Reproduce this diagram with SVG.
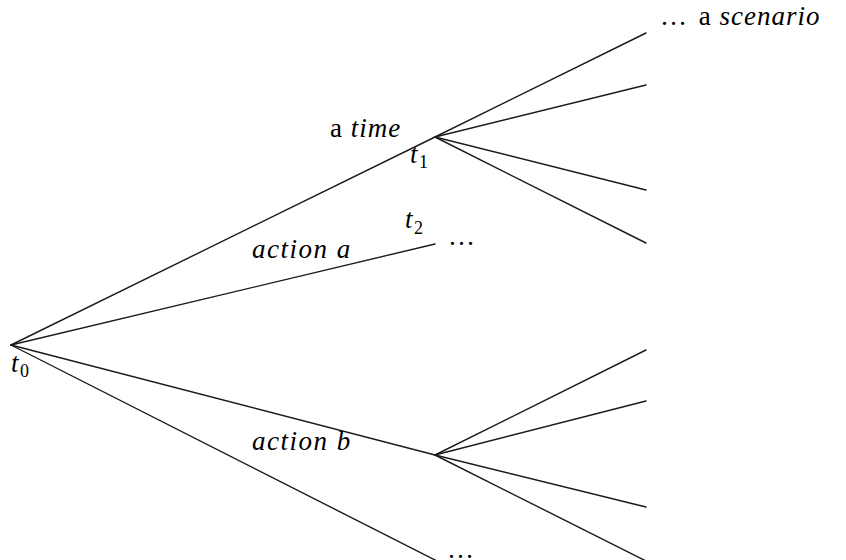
<svg xmlns="http://www.w3.org/2000/svg" width="846" height="560" viewBox="0 0 846 560">
<rect width="846" height="560" fill="#fff"/>
<g id="connectors" stroke="#1a1a1a" stroke-width="1.4" stroke-linecap="round" fill="none">
<line x1="11" y1="345" x2="435" y2="137"/>
<line x1="11" y1="345" x2="435" y2="244"/>
<line x1="11" y1="345" x2="435" y2="455"/>
<line x1="11" y1="345" x2="437" y2="561"/>
<line x1="435" y1="137" x2="646" y2="33"/>
<line x1="435" y1="137" x2="646" y2="85"/>
<line x1="435" y1="137" x2="646" y2="190"/>
<line x1="435" y1="137" x2="646" y2="243"/>
<line x1="435" y1="455" x2="646" y2="350"/>
<line x1="435" y1="455" x2="646" y2="401"/>
<line x1="435" y1="455" x2="646" y2="507"/>
<line x1="435" y1="455" x2="646" y2="561"/>
</g>
<g id="t0"><text x="11" y="372" style="font-family:'Liberation Serif',serif;font-size:27px;font-style:italic">t</text><text x="20" y="377" style="font-family:'Liberation Serif',serif;font-size:18px">0</text></g>
<g id="t1"><text x="330" y="137" style="font-family:'Liberation Serif',serif;font-size:27px;letter-spacing:1px">a <tspan style="font-style:italic">time</tspan></text><text x="410" y="163" style="font-family:'Liberation Serif',serif;font-size:27px;font-style:italic">t</text><text x="419" y="168" style="font-family:'Liberation Serif',serif;font-size:18px">1</text></g>
<g id="t2"><text x="405" y="228" style="font-family:'Liberation Serif',serif;font-size:27px;font-style:italic">t</text><text x="414" y="234" style="font-family:'Liberation Serif',serif;font-size:18px">2</text><text x="448" y="245" style="font-family:'Liberation Serif',serif;font-size:27px;letter-spacing:4px">…</text></g>
<g id="actiona"><text x="252" y="258" style="font-family:'Liberation Serif',serif;font-size:27px;font-style:italic;letter-spacing:1.5px">action a</text></g>
<g id="actionb"><text x="252" y="450" style="font-family:'Liberation Serif',serif;font-size:27px;font-style:italic;letter-spacing:1.5px">action b</text></g>
<g id="scenario"><text x="660" y="25" style="font-family:'Liberation Serif',serif;font-size:27px;letter-spacing:1px"><tspan style="letter-spacing:4px">…</tspan> a <tspan style="font-style:italic">scenario</tspan></text></g>
<g id="bottom"><text x="447" y="558" style="font-family:'Liberation Serif',serif;font-size:27px;letter-spacing:4px">…</text></g>
</svg>
